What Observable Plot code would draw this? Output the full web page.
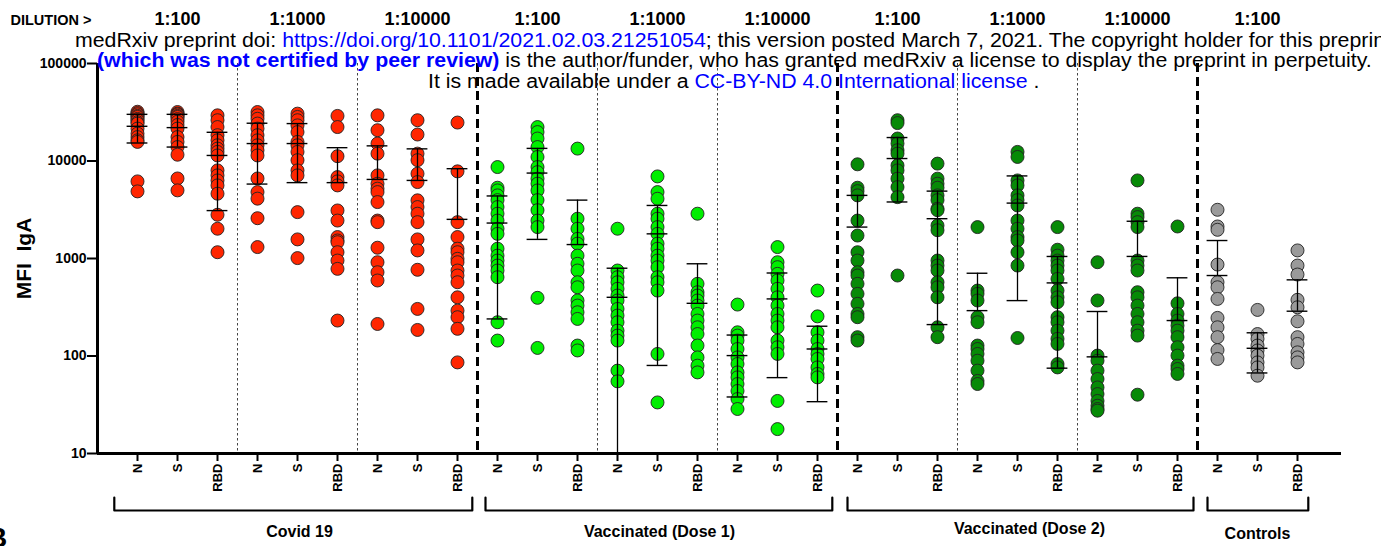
<!DOCTYPE html>
<html><head><meta charset="utf-8">
<script src="https://cdn.jsdelivr.net/npm/d3@7"></script>
<script src="https://cdn.jsdelivr.net/npm/@observablehq/plot@0.6"></script>
<style>
body{margin:0;background:#fff;}
#wrap{position:relative;width:1381px;height:546px;overflow:hidden;font-family:"Liberation Sans",Arial,sans-serif;}
#wrap svg{position:absolute;left:0;top:0;}
.wm{position:absolute;white-space:nowrap;font-size:20px;line-height:20px;color:#000;transform:scaleX(1.065);transform-origin:0 0;}
.blue{color:#0000ff;}
.b{font-weight:bold;}
</style></head><body><div id="wrap"></div>
<script>
// ---------- categories ----------
const antigens = ["N", "S", "RBD"];
const dilutions = ["1:100", "1:1000", "1:10000"];
const cohorts = ["Covid 19", "Vaccinated (Dose 1)", "Vaccinated (Dose 2)", "Controls"];
const cohortColors = ["#ff2600", "#00ee00", "#078a07", "#9a9a9a"];
const yTicks = [10, 100, 1000, 10000, 100000];

// ---------- MFI IgA values ----------
// Covid 19
const covid_N_100 = [32000, 31000, 30100, 29000, 28300, 27000, 26200, 25000, 24200, 21500, 19100, 17600, 16300, 15700, 6180, 4880];
const covid_S_100 = [31800, 30600, 30000, 29000, 28300, 26900, 25300, 23400, 21500, 17600, 15700, 13900, 11600, 6620, 5000];
const covid_RBD_100 = [29400, 26200, 22300, 18400, 16300, 14500, 13400, 12400, 11400, 8010, 7120, 6320, 5620, 4620, 2810, 2020, 1160];
const covid_N_1000 = [31800, 29400, 27100, 24200, 21500, 18400, 16300, 14500, 12900, 11400, 6620, 4800, 4110, 2590, 1310];
const covid_S_1000 = [30600, 28300, 26200, 23200, 19800, 15700, 14500, 12400, 10200, 8010, 7120, 2990, 1570, 1010];
const covid_RBD_1000 = [29000, 22300, 11200, 6840, 6180, 5620, 3110, 2450, 1660, 1530, 1470, 1160, 953, 783, 231];
const covid_N_10000 = [29400, 20700, 15100, 11900, 7120, 5850, 5200, 4800, 3790, 2450, 2360, 1290, 916, 723, 595, 213];
const covid_S_10000 = [26200, 18700, 11900, 10200, 7410, 6080, 3950, 3370, 2880, 2360, 1570, 1210, 766, 304, 185];
const covid_RBD_10000 = [24800, 7830, 2360, 1660, 1260, 1160, 993, 916, 753, 669, 571, 400, 292, 250, 190, 86];
// Vaccinated (Dose 1)
const dose1_N_100 = [8670, 5320, 4990, 4440, 3970, 3370, 2880, 2450, 2020, 1790, 1260, 1070, 953, 847, 753, 643, 222, 144];
const dose1_S_100 = [22300, 19800, 17000, 13900, 11000, 8670, 7690, 6590, 5850, 4990, 3970, 3130, 2450, 2100, 395, 121];
const dose1_RBD_100 = [13400, 2560, 2020, 1590, 1420, 1070, 883, 753, 571, 507, 371, 329, 281, 240, 128, 114];
const dose1_N_1000 = [2020, 753, 643, 571, 489, 417, 371, 304, 260, 222, 182, 162, 144, 70.8, 55];
const dose1_S_1000 = [6950, 4800, 4100, 2880, 2560, 2100, 1790, 1420, 1260, 1070, 953, 815, 643, 571, 469, 105, 33.4];
const dose1_RBD_1000 = [2880, 550, 451, 417, 371, 329, 270, 231, 197, 168, 128, 96.8, 79.6, 67.9];
const dose1_N_10000 = [337, 175, 162, 144, 118, 96.8, 82.8, 67.9, 60.4, 51.6, 43.8, 36.2, 28.6];
const dose1_S_10000 = [1310, 916, 815, 696, 595, 489, 400, 329, 270, 231, 197, 144, 123, 105, 34.6, 17.8];
const dose1_RBD_10000 = [469, 255, 175, 144, 118, 105, 93.3, 76.4, 65.5, 60.4];
// Vaccinated (Dose 2)
const dose2_N_100 = [9250, 5320, 4910, 4440, 2450, 1720, 1160, 953, 723, 669, 550, 434, 343, 270, 250, 156, 144];
const dose2_S_100 = [26200, 24500, 17000, 15100, 12900, 11900, 9010, 8010, 6590, 5400, 4260, 669];
const dose2_RBD_100 = [9400, 6590, 5850, 5320, 4440, 3970, 3240, 3130, 2180, 1950, 953, 847, 753, 571, 507, 400, 197, 156];
const dose2_N_1000 = [2100, 469, 434, 371, 250, 222, 128, 118, 105, 89.5, 70.8, 55.5, 51.6];
const dose2_S_1000 = [12400, 11000, 6320, 5620, 4440, 3970, 3500, 2450, 2020, 1660, 1530, 1160, 847, 153];
const dose2_RBD_1000 = [2100, 1230, 1070, 953, 847, 753, 618, 469, 400, 356, 250, 222, 182, 150, 133, 82.8, 76.4];
const dose2_N_10000 = [916, 371, 101, 89.5, 70.8, 58.1, 47.6, 40.7, 34.6, 30.9, 28.6, 27.5];
const dose2_S_10000 = [6320, 2880, 2660, 2360, 2100, 953, 847, 753, 451, 400, 329, 270, 222, 182, 162, 40.1];
const dose2_RBD_10000 = [2130, 347, 270, 231, 205, 182, 156, 123, 101, 79.6, 73.6, 65.5];
// Controls
const ctrl_N_100 = [3160, 2130, 1970, 867, 571, 507, 385, 246, 197, 156, 115, 93.3];
const ctrl_S_100 = [297, 168, 150, 128, 114, 101, 86, 76.4, 62.8];
const ctrl_RBD_100 = [1210, 847, 685, 377, 316, 227, 156, 133, 109, 96.8, 86];

// mean and SD per column (as drawn in the picture)
const means = [22700, 22000, 11400, 15100, 15100, 6000, 6470, 6320, 2520,
               2310, 7520, 1390, 400, 1790, 347, 101, 385, 118,
               2100, 10600, 2560, 292, 3700, 562, 98, 1050, 231,
               669, 120, 288];
const sds = [7400, 8100, 8300, 9300, 9100, 7700, 7830, 7000, 5820,
             2070, 5950, 2580, 395, 1710, 536, 63, 325, 84,
             2340, 6800, 2350, 414, 3330, 487, 188, 1360, 403,
             860, 53, 316];

// ---------- assemble ----------
const columns = [
  covid_N_100, covid_S_100, covid_RBD_100, covid_N_1000, covid_S_1000, covid_RBD_1000, covid_N_10000, covid_S_10000, covid_RBD_10000,
  dose1_N_100, dose1_S_100, dose1_RBD_100, dose1_N_1000, dose1_S_1000, dose1_RBD_1000, dose1_N_10000, dose1_S_10000, dose1_RBD_10000,
  dose2_N_100, dose2_S_100, dose2_RBD_100, dose2_N_1000, dose2_S_1000, dose2_RBD_1000, dose2_N_10000, dose2_S_10000, dose2_RBD_10000,
  ctrl_N_100, ctrl_S_100, ctrl_RBD_100
];
const cohortOf = i => i < 9 ? 0 : i < 18 ? 1 : i < 27 ? 2 : 3;
const points = columns.flatMap((vals, i) => vals.map(v => ({i, v, c: cohortOf(i)})));
const yMin = 10;
const stats = means.map((m, i) => {
  const lower = m - sds[i];
  return {i, mean: m, hi: m + sds[i], lo: lower > 0 ? Math.max(lower, yMin) : null};
});

// layout helpers
const W = 1381, H = 546, mT = 63, mB = 93, mL = 97, mR = 40;
const decade = (H - mT - mB) / 4;
const below = px => 10 ** (1 - (px - (H - mB)) / decade); // value at a pixel row under the axis
const thinSeps = [2.5, 5.5, 11.5, 14.5, 20.5, 23.5];
const thickSeps = [8.5, 17.5, 26.5];
const bracketSpans = [[-0.58, 8.37], [8.7, 17.37], [17.75, 26.4], [26.75, 29.27]];
const labelX = [4.05, 13.05, 22.3, 28.0];
const labelY = [531, 531, 528, 533];
const dilutionCols = d3.range(10).map(g => ({x: 3 * g + 1, t: dilutions[g % 3]}));
const bracketPts = bracketSpans.flatMap(([a, b], k) => [
  {k, x: a, y: below(497)}, {k, x: a, y: below(510)}, {k, x: b, y: below(510)}, {k, x: b, y: below(497)}
]);

const chart = Plot.plot({
  width: W, height: H,
  marginTop: mT, marginBottom: mB, marginLeft: mL, marginRight: mR,
  style: {fontFamily: "'Liberation Sans', Arial, sans-serif", color: "#000", background: "transparent", overflow: "visible"},
  x: {type: "linear", domain: [-1, 30.1]},
  y: {type: "log", domain: [10, 100000]},
  marks: [
    Plot.ruleX(thinSeps, {x: d => d, stroke: "#444", strokeWidth: 1, strokeDasharray: "2.5,2.5"}),
    Plot.ruleX(thickSeps, {x: d => d, stroke: "#000", strokeWidth: 3, strokeDasharray: "9,5"}),
    Plot.dot(points, {x: "i", y: "v", r: 6.5, fill: d => cohortColors[d.c], stroke: "#222", strokeWidth: 0.9}),
    Plot.ruleX(stats, {x: "i", y1: d => d.lo ?? d.mean, y2: "hi", stroke: "#000", strokeWidth: 1.3}),
    Plot.ruleY(stats, {y: "mean", x1: d => d.i - 0.26, x2: d => d.i + 0.26, stroke: "#000", strokeWidth: 1.4}),
    Plot.ruleY(stats, {y: "hi", x1: d => d.i - 0.26, x2: d => d.i + 0.26, stroke: "#000", strokeWidth: 1.4}),
    Plot.ruleY(stats.filter(d => d.lo != null), {y: "lo", x1: d => d.i - 0.26, x2: d => d.i + 0.26, stroke: "#000", strokeWidth: 1.4}),
    Plot.ruleX([-1], {stroke: "#000", strokeWidth: 3}),
    Plot.ruleY([10], {stroke: "#000", strokeWidth: 3}),
    Plot.axisY({ticks: yTicks, tickFormat: d => String(d), tickSize: 10, tickPadding: 1, strokeWidth: 2, fontWeight: "bold", fontSize: 14}),
    Plot.axisX(d3.range(30), {tickFormat: i => antigens[i % 3], tickRotate: -90, tickSize: 8, tickPadding: 2, strokeWidth: 2, fontWeight: "bold", fontSize: 13}),
    Plot.text(["MFI  IgA"], {frameAnchor: "left", dx: -73, rotate: -90, textAnchor: "middle", lineAnchor: "middle", fontSize: 21, fontWeight: "bold"}),
    Plot.text(dilutionCols, {x: "x", text: "t", frameAnchor: "top", lineAnchor: "middle", dy: -44, fontSize: 18, fontWeight: "bold"}),
    Plot.text(["DILUTION >"], {frameAnchor: "top-left", dx: -87, dy: -43, textAnchor: "start", lineAnchor: "middle", fontSize: 14.5, fontWeight: "bold"}),
    Plot.line(bracketPts, {x: "x", y: "y", z: "k", stroke: "#000", strokeWidth: 2.2}),
    Plot.text(cohorts, {x: (d, k) => labelX[k], y: (d, k) => below(labelY[k]), text: d => d, fontSize: 16, fontWeight: "bold"})
  ]
});

const wrap = document.getElementById("wrap");
wrap.appendChild(chart);
const overlay = `
<div class="wm" style="left:75px;top:30px">medRxiv preprint doi: <span class="blue">https://doi.org/10.1101/2021.02.03.21251054</span>; this version posted March 7, 2021. The copyright holder for this preprint</div>
<div class="wm" style="left:97px;top:50px"><span class="blue b">(which was not certified by peer review)</span> is the author/funder, who has granted medRxiv a license to display the preprint in perpetuity.</div>
<div class="wm" style="left:428px;top:71px">It is made available under a <span class="blue">CC-BY-ND 4.0 International license</span> .</div>
<div class="b" style="position:absolute;left:-13px;top:524px;font-size:28px;line-height:28px">B</div>`;
wrap.insertAdjacentHTML("beforeend", overlay);
</script>
</body></html>
